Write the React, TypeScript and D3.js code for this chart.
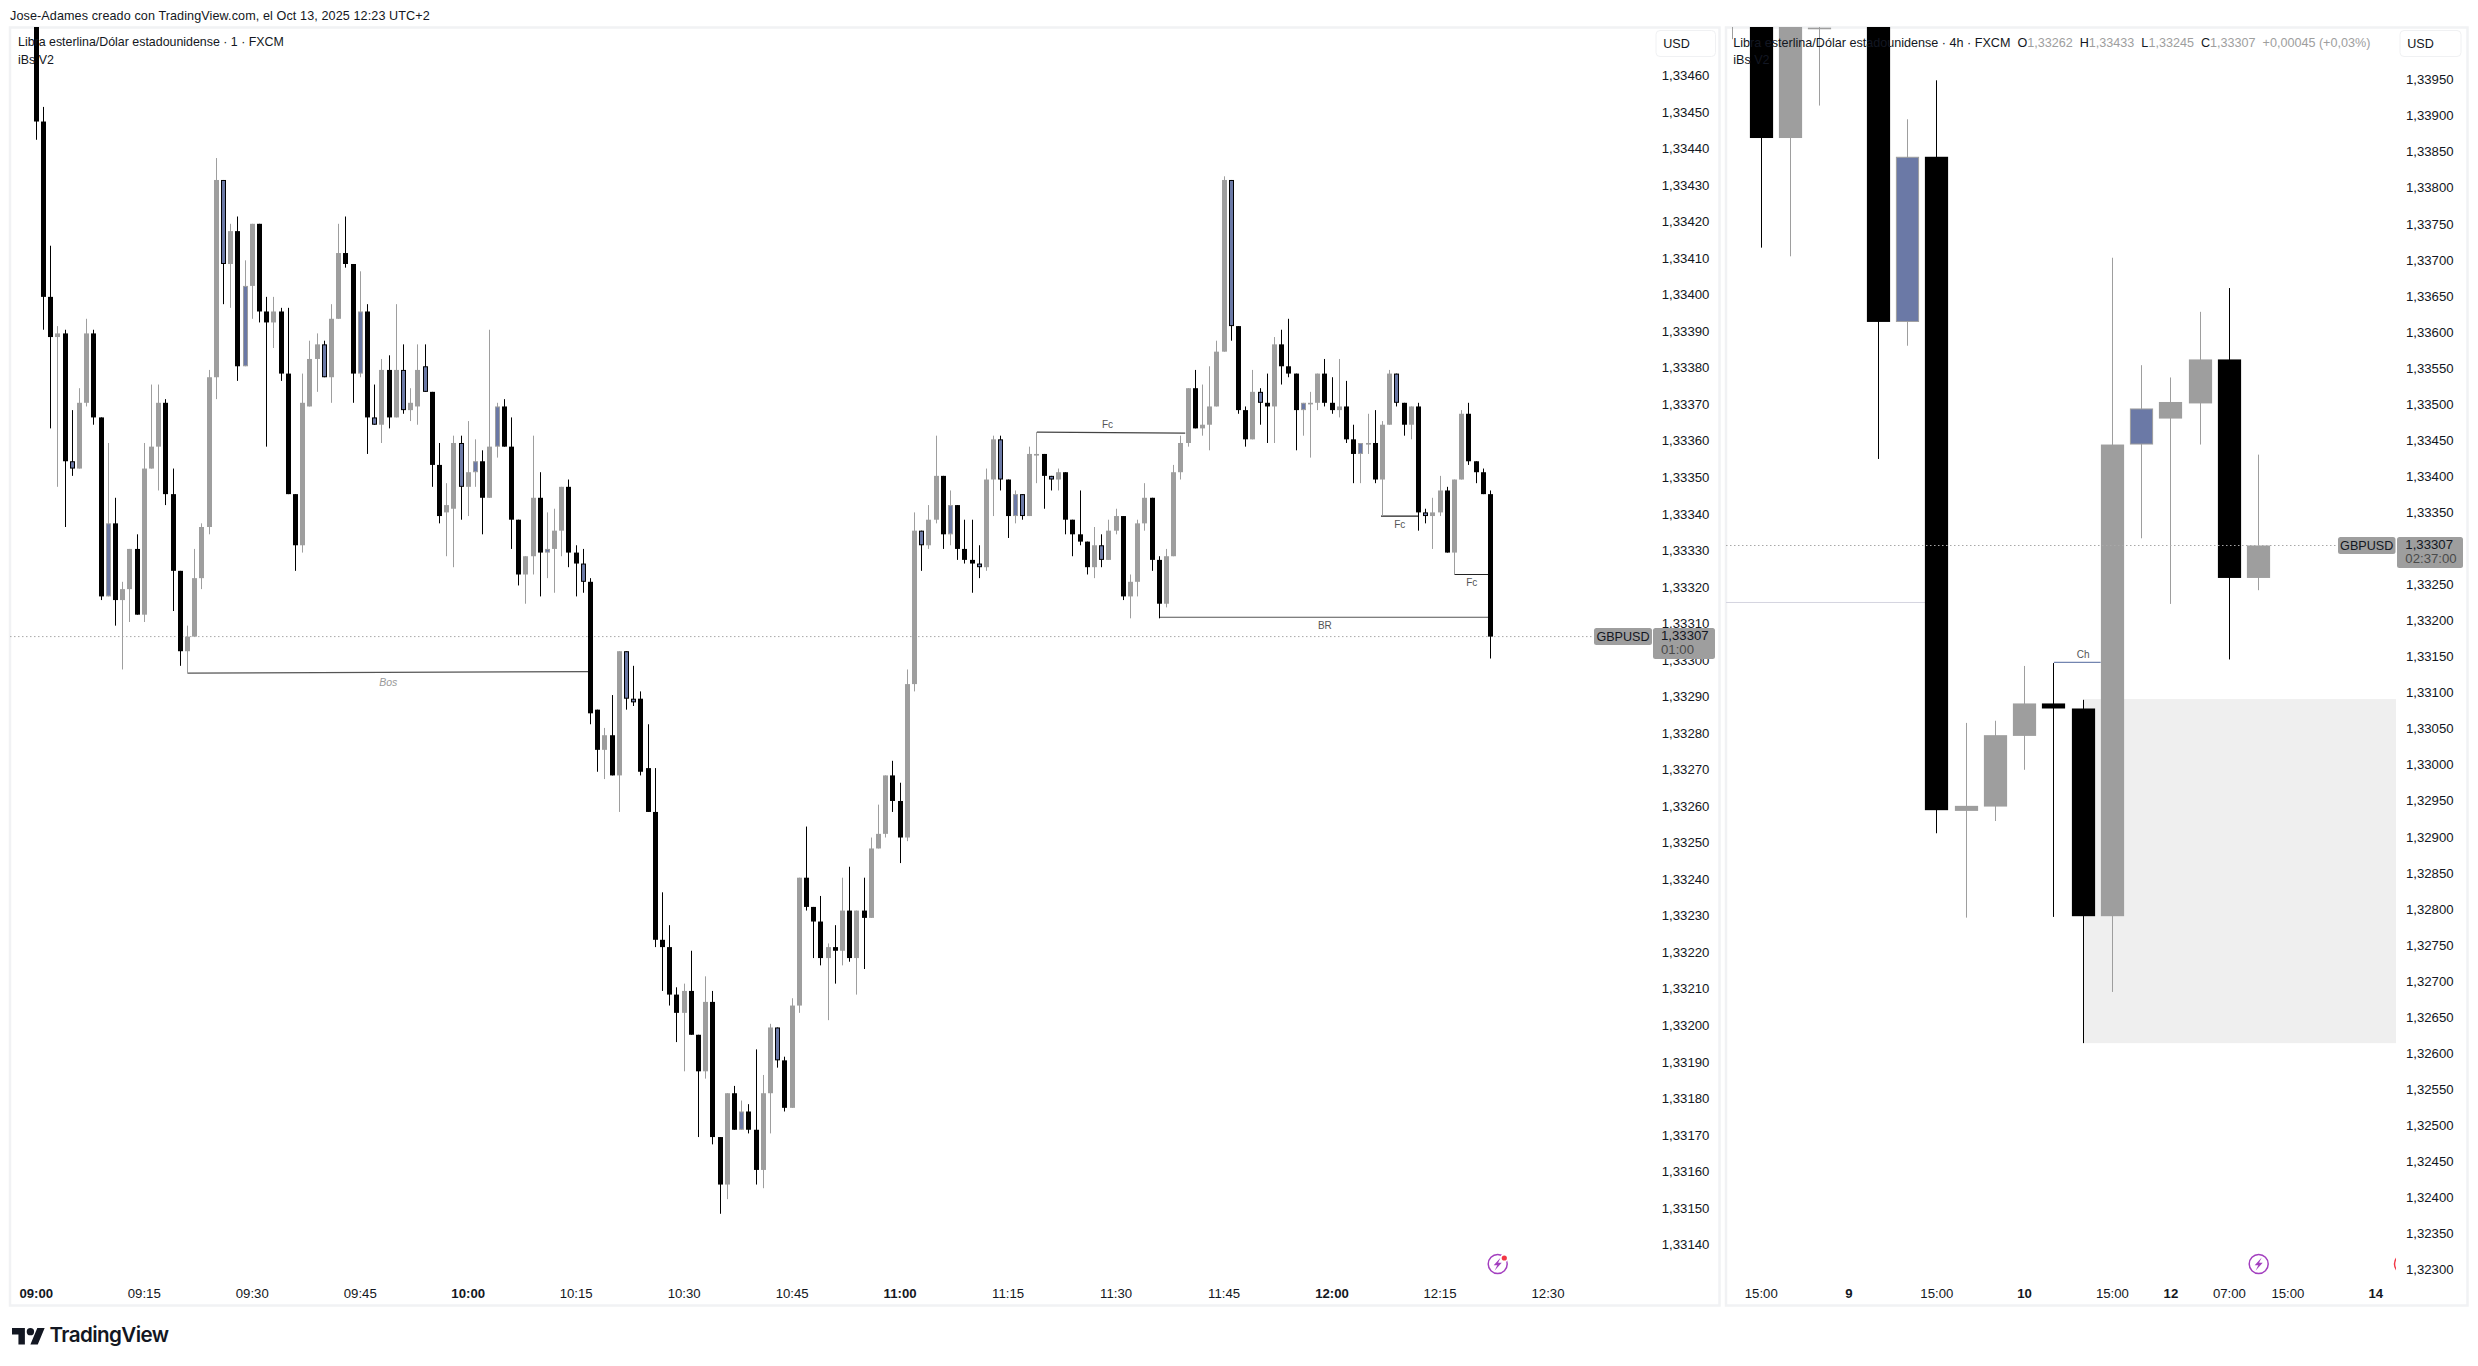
import React from "react";
import * as d3 from "d3";

// Prices are in points above 1.00000 (33307 = 1,33307)
// k = black down, g = grey up, b = blue with black outline, c = blue with grey outline
const kinds1m = [
  "kkkgkbggkk","ckggkgggkk","kgggggbgkc","gkkgkkkggg","bggkkckbgk","gbggbkkggb","gckgckkkgg","kcggkkbkkg","kgbbkkkkkk","gkkgkkgkck",
  "kggbkggkkk","gkgkgkgggk","kggbggkckk","kbggbkcbgg","kbgkkkkgbg","gkgggkkggg","gkggggbkkg","bkgkkkcggk","kgkkcgkggb","kgkbggkggk","kkk",
].join("");
const high1m = [33495,33452,33414,33392,33391,33369,33375,33394,33391,33367,33360,33345,33322,33331,33335,33360,33376,33376,33372,33353,33325,33310,33331,33338,33380,33438,33432,33420,33422,33410,33420,33420,33400,33400,33397,33397,33346,33379,33388,33390,33388,33398,33420,33422,33409,33407,33398,33376,33383,33384,33398,33387,33375,33387,33387,33374,33360,33349,33362,33362,33366,33361,33358,33391,33371,33372,33367,33339,33329,33362,33352,33341,33342,33348,33350,33332,33331,33323,33287,33282,33291,33303,33303,33299,33292,33283,33271,33237,33228,33211,33212,33221,33198,33214,33210,33170,33182,33184,33180,33179,33194,33187,33201,33200,33192,33208,33241,33255,33233,33236,33223,33228,33241,33244,33232,33241,33252,33261,33269,33273,33267,33298,33341,33336,33343,33362,33351,33347,33343,33339,33339,33332,33353,33362,33362,33350,33347,33346,33359,33363,33357,33351,33353,33352,33339,33347,33333,33337,33335,33339,33342,33340,33324,33339,33349,33345,33329,33331,33354,33362,33375,33380,33376,33381,33388,33433,33432,33392,33370,33380,33375,33379,33389,33391,33394,33379,33371,33374,33379,33383,33378,33383,33377,33365,33360,33368,33369,33366,33380,33379,33371,33370,33371,33342,33345,33351,33348,33350,33369,33371,33355,33353,33347];
const bodyTop1m = [33490,33448,33400,33390,33390,33355,33371,33390,33390,33367,33338,33338,33320,33331,33331,33353,33359,33371,33371,33346,33325,33307,33323,33337,33378,33432,33432,33418,33418,33403,33420,33420,33396,33396,33396,33379,33346,33371,33383,33387,33387,33394,33412,33412,33409,33396,33396,33367,33380,33380,33380,33380,33371,33380,33381,33374,33354,33343,33360,33360,33352,33355,33355,33359,33370,33370,33359,33339,33329,33345,33345,33331,33336,33348,33348,33330,33327,33322,33287,33280,33280,33303,33303,33290,33290,33271,33259,33224,33222,33209,33210,33210,33198,33207,33207,33170,33182,33182,33177,33177,33172,33182,33200,33200,33191,33206,33241,33241,33233,33229,33222,33222,33232,33232,33232,33232,33249,33253,33269,33269,33262,33294,33336,33336,33339,33351,33351,33343,33343,33331,33328,33327,33350,33361,33361,33350,33346,33346,33357,33357,33357,33351,33352,33352,33339,33335,33333,33332,33332,33336,33340,33340,33322,33338,33345,33345,33328,33329,33352,33360,33375,33375,33365,33370,33385,33432,33432,33392,33369,33374,33374,33371,33387,33387,33381,33379,33371,33371,33379,33379,33371,33370,33370,33361,33360,33360,33360,33365,33379,33379,33371,33370,33370,33341,33341,33347,33347,33350,33368,33368,33355,33352,33346];
const bodyBottom1m = [33448,33400,33389,33389,33355,33353,33353,33371,33367,33318,33318,33317,33317,33320,33313,33313,33353,33359,33346,33325,33303,33303,33307,33323,33337,33378,33409,33409,33381,33381,33403,33396,33393,33393,33379,33346,33332,33332,33370,33383,33378,33378,33394,33409,33379,33379,33367,33365,33365,33367,33367,33369,33369,33370,33374,33354,33340,33341,33342,33348,33348,33352,33345,33345,33359,33359,33339,33324,33324,33329,33330,33330,33331,33336,33330,33327,33322,33286,33276,33276,33269,33269,33290,33289,33270,33259,33224,33222,33209,33204,33204,33198,33188,33188,33170,33157,33157,33172,33172,33172,33161,33161,33182,33191,33178,33178,33206,33233,33229,33219,33219,33221,33221,33219,33219,33230,33230,33249,33253,33262,33252,33252,33294,33332,33332,33339,33335,33335,33331,33328,33327,33326,33326,33350,33350,33340,33340,33340,33340,33357,33351,33350,33350,33339,33335,33333,33326,33326,33328,33328,33336,33318,33318,33322,33338,33328,33316,33316,33329,33352,33360,33364,33364,33365,33370,33385,33392,33369,33361,33361,33371,33370,33370,33381,33379,33369,33369,33371,33371,33371,33369,33369,33361,33357,33357,33360,33350,33350,33365,33371,33365,33365,33341,33340,33340,33341,33330,33330,33350,33355,33352,33346,33307];
const low1m = [33443,33391,33364,33348,33337,33351,33353,33370,33365,33317,33318,33310,33298,33311,33313,33311,33353,33347,33343,33314,33299,33297,33307,33320,33335,33372,33398,33397,33377,33381,33394,33393,33359,33386,33377,33346,33325,33330,33370,33374,33378,33371,33394,33408,33371,33378,33357,33365,33360,33364,33367,33368,33366,33365,33374,33348,33338,33329,33326,33339,33340,33348,33335,33345,33356,33359,33331,33321,33316,33324,33318,33323,33319,33329,33326,33318,33319,33283,33270,33268,33269,33259,33287,33288,33269,33259,33222,33210,33206,33196,33188,33198,33170,33186,33168,33149,33153,33172,33172,33171,33157,33156,33171,33189,33177,33178,33204,33232,33219,33217,33202,33212,33217,33218,33209,33216,33230,33249,33252,33259,33245,33251,33292,33325,33331,33338,33331,33332,33328,33327,33319,33323,33325,33340,33347,33334,33338,33339,33340,33349,33342,33347,33347,33335,33329,33332,33324,33323,33326,33328,33335,33317,33312,33318,33336,33325,33312,33315,33329,33350,33359,33364,33362,33358,33370,33385,33388,33368,33359,33361,33365,33360,33360,33376,33378,33358,33362,33356,33369,33370,33368,33367,33360,33349,33349,33357,33349,33340,33365,33370,33362,33361,33336,33338,33331,33340,33330,33324,33350,33354,33349,33346,33301];

const slots4h = [0,1,2,3,5,6,7,8,9,10,11,12,13,14,15,16,17,18];
const kinds4h = ["g","k","g","g","k","c","k","g","g","g","k","k","g","c","g","g","k","g"];
const high4h = [34100,34100,34100,34100,34100,33898,33952,33061,33064,33140,33144,33093,33706,33557,33540,33631,33664,33433];
const bodyTop4h = [34100,34100,34100,34025,34100,33846,33846,32946,33044,33088,33088,33081,33447,33497,33506,33565,33565,33307];
const bodyBottom4h = [34060,33872,33872,34023,33617,33617,32940,32939,32945,33043,33081,32793,32793,33447,33483,33504,33262,33262];
const low4h = [34009,33720,33708,33917,33427,33584,32908,32791,32925,32996,32792,32617,32688,33317,33226,33447,33149,33245];

const ticks1m = [33460,33450,33440,33430,33420,33410,33400,33390,33380,33370,33360,33350,33340,33330,33320,33310,33300,33290,33280,33270,33260,33250,33240,33230,33220,33210,33200,33190,33180,33170,33160,33150,33140];
const ticks4h = [33950,33900,33850,33800,33750,33700,33650,33600,33550,33500,33450,33400,33350,33300,33250,33200,33150,33100,33050,33000,32950,32900,32850,32800,32750,32700,32650,32600,32550,32500,32450,32400,32350,32300];
const times1m: [number,string,boolean][] = [[0,"09:00",true],[15,"09:15",false],[30,"09:30",false],[45,"09:45",false],[60,"10:00",true],[75,"10:15",false],[90,"10:30",false],[105,"10:45",false],[120,"11:00",true],[135,"11:15",false],[150,"11:30",false],[165,"11:45",false],[180,"12:00",true],[195,"12:15",false],[210,"12:30",false]];
const times4h: [number,string,boolean][] = [[1,"15:00",false],[4,"9",true],[7,"15:00",false],[10,"10",true],[13,"15:00",false],[15,"12",true],[17,"07:00",false],[19,"15:00",false],[22,"14",true]];

// structure lines: [startBar, endBar, startPrice, endPrice, label, labelBar, labelOffset, italic, colour]
const lines1m: [number,number,number,number,string,number,number,boolean,string][] = [
  [21,77,33297,33297.4,"Bos",48.9,9,true,"#555"],
  [139,159.6,33363,33362.7,"Fc",148.8,-8,false,"#444"],
  [186.8,192,33340,33340,"Fc",189.4,8,false,"#222"],
  [197,202,33324,33324,"Fc",199.4,8,false,"#222"],
  [156,202,33312.3,33312.3,"BR",179,8.5,false,"#555"],
];
const lastPrice = 33307;
const ZONE_4H = { top: 33094, bottom: 32617 };
const CH_4H = { from: 11, to: 12.6, price: 33145 };
const LEVEL_4H = { to: 6.63, price: 33228 };

const FONT = "'Liberation Sans', Arial, sans-serif";
const GREY = "#9e9e9e";
const BLUE = "#6b79a6";
const fmt = (v: number) => (1 + v / 1e5).toFixed(5).replace(".", ",");

const y1m = d3.scaleLinear().domain([lastPrice, lastPrice - 100]).range([636.6, 636.6 + 365.3]);
const x1m = d3.scaleLinear().domain([0, 210]).range([36.3, 1548]);
const y4h = d3.scaleLinear().domain([lastPrice, lastPrice - 1000]).range([545.5, 545.5 + 721.2]);
const x4h = d3.scaleLinear().domain([0, 18]).range([1732, 2258.7]);

type CandleProps = { x: number; hi: number; top: number; bot: number; lo: number; kind: string; w: number };
function Candle({ x, hi, top, bot, lo, kind, w }: CandleProps) {
  const cx = Math.round(x - 0.5) + 0.5;
  const dark = kind === "k" || kind === "b";
  const edge = dark ? "#000" : GREY;
  const fill = kind === "k" ? "#000" : kind === "g" ? GREY : BLUE;
  const h = Math.max(bot - top, 1.6);
  return (
    <g>
      <line x1={cx} x2={cx} y1={hi} y2={lo} stroke={edge} strokeWidth={1} />
      {kind === "b" || kind === "c" ? (
        <rect x={cx - w / 2 + 0.5} y={top + 0.5} width={w - 1} height={Math.max(h - 1, 1)} fill={fill} stroke={edge} strokeWidth={1} />
      ) : (
        <rect x={cx - w / 2} y={top} width={w} height={h} fill={fill} />
      )}
    </g>
  );
}

function Bolt({ x, y, color, dot }: { x: number; y: number; color: string; dot: boolean }) {
  return (
    <g transform={`translate(${x},${y})`}>
      <circle r={9.5} fill="#fff" stroke={color} strokeWidth={1.5} />
      <path d="M3,-6.5 L-4,1.2 L-0.4,1.2 L-3,6.5 L4,-1.2 L0.4,-1.2 Z" fill={color} />
      {dot && <circle cx={6.6} cy={-6} r={4} fill="#fff" />}
      {dot && <circle cx={6.6} cy={-6} r={2.6} fill="#f23645" />}
    </g>
  );
}

function Tag({ x, y, w, h, fill = GREY }: { x: number; y: number; w: number; h: number; fill?: string }) {
  return <rect x={x} y={y} width={w} height={h} rx={2.5} fill={fill} />;
}

export default function App() {
  return (
    <svg width={2478} height={1366} style={{ position: "absolute", left: 0, top: 0, background: "#fff" }} fontFamily={FONT}>
      <defs>
        <clipPath id="c1"><rect x={10} y={27} width={1645} height={1255} /></clipPath>
        <clipPath id="c2"><rect x={1726} y={27} width={670} height={1255} /></clipPath>
      </defs>
      <rect width={2478} height={1366} fill="#fff" />
      <text x={10} y={20} fontSize={12.6} fill="#131722" letterSpacing={0.1}>Jose-Adames creado con TradingView.com, el Oct 13, 2025 12:23 UTC+2</text>
      <rect x={10} y={27.5} width={1709.5} height={1278} fill="#fff" stroke="#f1f2f4" strokeWidth={2.5} />
      <rect x={1726} y={27.5} width={741.5} height={1278} fill="#fff" stroke="#f1f2f4" strokeWidth={2.5} />

      {/* 1 minute pane */}
      <g clipPath="url(#c1)">
        <line x1={10} x2={1594} y1={y1m(lastPrice)} y2={y1m(lastPrice)} stroke="#a8a8a8" strokeDasharray="1.5 2.5" />
        {lines1m.map((l, i) => (
          <line key={i} x1={x1m(l[0])} x2={x1m(l[1])} y1={y1m(l[2])} y2={y1m(l[3])} stroke={l[8]} strokeWidth={1.2} />
        ))}
        {high1m.map((h, i) => (
          <Candle key={i} x={x1m(i)} hi={y1m(h)} top={y1m(bodyTop1m[i])} bot={y1m(bodyBottom1m[i])} lo={y1m(low1m[i])} kind={kinds1m[i]} w={5} />
        ))}
        {lines1m.map((l, i) => (
          <text key={i} x={x1m(l[5])} y={y1m(l[2]) + l[6]} fontSize={l[7] ? 10.5 : 10} fontStyle={l[7] ? "italic" : "normal"} fill={l[7] ? "#999" : "#555"} textAnchor="middle" dominantBaseline="central">{l[4]}</text>
        ))}
        <text x={18} y={46} fontSize={12.4} fill="#131722">Libra esterlina/Dólar estadounidense · 1 · FXCM</text>
        <text x={18} y={63.5} fontSize={12.4} fill="#131722">iBs V2</text>
      </g>
      {ticks1m.map(t => (
        <text key={t} x={1709.4} y={y1m(t) - 2} textAnchor="end" dominantBaseline="central" fontSize={13.2} fill="#131722">{fmt(t)}</text>
      ))}
      {times1m.map(([i, s, b]) => (
        <text key={s} x={x1m(i)} y={1293} textAnchor="middle" dominantBaseline="central" fontSize={13.2} fontWeight={b ? 700 : 400} fill="#131722">{s}</text>
      ))}
      <rect x={1656} y={30.5} width={59.5} height={26} rx={4} fill="#fff" stroke="#f0f1f3" />
      <text x={1676.5} y={43.5} textAnchor="middle" dominantBaseline="central" fontSize={12.6} fill="#131722">USD</text>
      <Tag x={1594} y={628} w={58} h={17} />
      <Tag x={1653} y={628} w={62} h={31} />
      <text x={1623} y={636.5} textAnchor="middle" dominantBaseline="central" fontSize={12.6} fill="#131722">GBPUSD</text>
      <text x={1661} y={635.5} dominantBaseline="central" fontSize={13.2} fill="#131722">{fmt(lastPrice)}</text>
      <text x={1661} y={649.5} dominantBaseline="central" fontSize={13.2} fill="#4a4a4a">01:00</text>
      <Bolt x={1497.7} y={1264} color="#a33fbf" dot={true} />

      {/* 4 hour pane */}
      <g clipPath="url(#c2)">
        <rect x={x4h(12)} y={y4h(ZONE_4H.top)} width={2396 - x4h(12)} height={y4h(ZONE_4H.bottom) - y4h(ZONE_4H.top)} fill="#efefef" />
        <line x1={1726} x2={x4h(LEVEL_4H.to)} y1={y4h(LEVEL_4H.price)} y2={y4h(LEVEL_4H.price)} stroke="#d4d4e0" />
        <line x1={x4h(CH_4H.from)} x2={x4h(CH_4H.to)} y1={y4h(CH_4H.price)} y2={y4h(CH_4H.price)} stroke="#7385b0" strokeWidth={1.2} />
        {high4h.map((h, i) => (
          <Candle key={i} x={x4h(slots4h[i])} hi={y4h(h)} top={y4h(bodyTop4h[i])} bot={y4h(bodyBottom4h[i])} lo={y4h(low4h[i])} kind={kinds4h[i]} w={23.2} />
        ))}
        <line x1={1726} x2={2338} y1={y4h(lastPrice)} y2={y4h(lastPrice)} stroke="#a8a8a8" strokeDasharray="1.5 2.5" />
        <text x={x4h(12)} y={654.8} fontSize={10} fill="#555" textAnchor="middle" dominantBaseline="central">Ch</text>
        <text x={1733.2} y={46.5} fontSize={12.6} fill="#131722">
          Libra esterlina/Dólar estadounidense · 4h · FXCM
          <tspan dx={7}>O</tspan><tspan fill={GREY}>{fmt(33262)}</tspan>
          <tspan dx={7}>H</tspan><tspan fill={GREY}>{fmt(33433)}</tspan>
          <tspan dx={7}>L</tspan><tspan fill={GREY}>{fmt(33245)}</tspan>
          <tspan dx={7}>C</tspan><tspan fill={GREY}>{fmt(33307)}</tspan>
          <tspan dx={7} fill={GREY}>+0,00045 (+0,03%)</tspan>
        </text>
        <text x={1733.2} y={63.5} fontSize={12.6} fill="#131722">iBs V2</text>
        <circle cx={2404} cy={1264} r={9.5} fill="none" stroke="#f23645" strokeWidth={1.5} />
      </g>
      {ticks4h.map(t => (
        <text key={t} x={2453.6} y={y4h(t) - 2} textAnchor="end" dominantBaseline="central" fontSize={13.2} fill="#131722">{fmt(t)}</text>
      ))}
      {times4h.map(([i, s, b], k) => (
        <text key={k} x={x4h(i)} y={1293} textAnchor="middle" dominantBaseline="central" fontSize={13.2} fontWeight={b ? 700 : 400} fill="#131722">{s}</text>
      ))}
      <rect x={2400} y={30.5} width={61} height={26} rx={4} fill="#fff" stroke="#f0f1f3" />
      <text x={2420.5} y={43.5} textAnchor="middle" dominantBaseline="central" fontSize={12.6} fill="#131722">USD</text>
      <Tag x={2338} y={537} w={57.5} h={17} />
      <Tag x={2397} y={537} w={66} h={31} />
      <text x={2366.7} y={545.5} textAnchor="middle" dominantBaseline="central" fontSize={12.6} fill="#131722">GBPUSD</text>
      <text x={2405.3} y={544.5} dominantBaseline="central" fontSize={13.2} fill="#131722">{fmt(lastPrice)}</text>
      <text x={2405.3} y={558.5} dominantBaseline="central" fontSize={13.2} fill="#4a4a4a">02:37:00</text>
      <Bolt x={2258.7} y={1264} color="#a33fbf" dot={false} />

      {/* TradingView mark */}
      <g transform="translate(12,1324.3) scale(0.92)" fill="#131722">
        <path d="M14 22H7V11H0V4h14v18zM28 22h-8l7.5-18h8L28 22z" />
        <circle cx={20} cy={8} r={4} />
      </g>
      <text x={49.5} y={1342} fontFamily="Inter, 'Liberation Sans', sans-serif" fontSize={20.6} fontWeight={600} fill="#131722" letterSpacing={-0.6}>TradingView</text>
    </svg>
  );
}
